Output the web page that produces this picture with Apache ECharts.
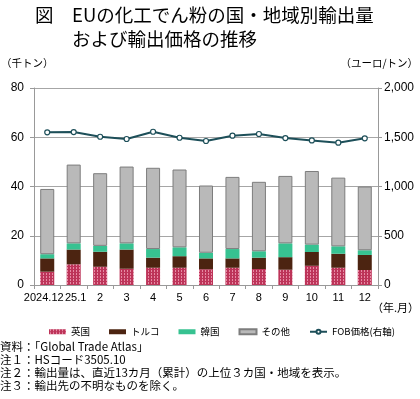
<!DOCTYPE html>
<html>
<head>
<meta charset="utf-8">
<script src="https://cdn.jsdelivr.net/npm/echarts@6/dist/echarts.min.js"></script>
<style>
  html, body { margin: 0; padding: 0; background: #fff; }
  #main { width: 420px; height: 399px; }
</style>
</head>
<body>
<div id="main"></div>
<script>
// 年月
var months = ['2024.12', '25.1', '2', '3', '4', '5', '6', '7', '8', '9', '10', '11', '12']
// 輸出量（千トン）
var uk = [5.4, 8.4, 7.4, 6.6, 7.0, 7.0, 6.4, 7.0, 6.5, 6.2, 7.8, 7.0, 6.1]
var turkey = [5.4, 6.0, 6.1, 7.8, 4.1, 4.7, 4.4, 3.8, 4.6, 5.1, 5.6, 5.7, 6.1]
var korea = [1.7, 2.5, 2.4, 2.5, 3.5, 3.6, 2.3, 3.8, 2.6, 5.6, 3.0, 3.0, 1.9]
var others = [26.5, 32.0, 29.5, 31.2, 33.0, 31.6, 27.3, 29.3, 28.2, 27.4, 29.9, 27.9, 25.9]
// FOB価格（ユーロ/トン）
var fob = [1550, 1553, 1505, 1482, 1556, 1495, 1462, 1516, 1533, 1492, 1468, 1445, 1489]
// 目盛
var leftTicks = [0, 20, 40, 60, 80]
var rightTicks = [0, 500, 1000, 1500, 2000]

var jp = '"Noto Sans CJK JP", sans-serif'
var num = '"Liberation Sans", Arial, sans-serif'

// 英国の柄（ドット）
var tile = document.createElement('canvas')
tile.width = 3
tile.height = 3
var ctx = tile.getContext('2d')
ctx.fillStyle = '#bd3459'
ctx.fillRect(0, 0, 3, 3)
ctx.fillStyle = '#e68aa4'
ctx.fillRect(1, 0, 1, 2)

var myChart = echarts.init(document.getElementById('main'))

var options = {
  backgroundColor: '#fff',
  animation: false,
  textStyle: { fontFamily: jp },
  graphic: [
    { type: 'text', left: 35, top: 6, style: { text: '図', font: '18.5px ' + jp, fill: '#000' } },
    { type: 'text', left: 72, top: 6, style: { text: 'EUの化工でん粉の国・地域別輸出量', font: '18.5px ' + jp, fill: '#000' } },
    { type: 'text', left: 72, top: 30, style: { text: 'および輸出価格の推移', font: '18.5px ' + jp, fill: '#000' } },
    { type: 'text', left: 1, top: 58, style: { text: '（千トン）', font: '10.5px ' + jp, fill: '#000' } },
    { type: 'text', right: 2, top: 58, style: { text: '（ユーロ/トン）', font: '10.5px ' + jp, fill: '#000' } },
    { type: 'text', right: 1, top: 302, style: { text: '（年.月）', font: '11px ' + jp, fill: '#000' } },
    { type: 'text', left: 0, top: 341, style: { text: '資料：「Global Trade Atlas」', font: '11.5px ' + jp, fill: '#000' } },
    { type: 'text', left: 0, top: 354, style: { text: '注１：HSコード3505.10', font: '11.5px ' + jp, fill: '#000' } },
    { type: 'text', left: 0, top: 367, style: { text: '注２：輸出量は、直近13カ月（累計）の上位３カ国・地域を表示。', font: '11.5px ' + jp, fill: '#000' } },
    { type: 'text', left: 0, top: 380, style: { text: '注３：輸出先の不明なものを除く。', font: '11.5px ' + jp, fill: '#000' } }
  ],
  legend: {
    left: 44,
    top: 322,
    itemWidth: 17,
    itemHeight: 5,
    itemGap: 19,
    textStyle: { fontSize: 9.5, color: '#000', fontFamily: jp },
    data: [
      { name: '英国', icon: 'rect' },
      { name: 'トルコ', icon: 'rect' },
      { name: '韓国', icon: 'rect' },
      { name: 'その他', icon: 'rect' },
      { name: 'FOB価格(右軸)' }
    ]
  },
  grid: {
    left: 34,
    right: 42,
    top: 88,
    bottom: 114,
    containLabel: false
  },
  xAxis: [
    {
      type: 'category',
      data: months,
      axisLine: { lineStyle: { color: '#999', width: 1 } },
      axisTick: { show: true, length: 4, lineStyle: { color: '#999' } },
      axisLabel: {
        interval: 0,
        color: '#000',
        fontSize: 11,
        fontFamily: num,
        margin: 7,
        formatter: function (v, i) {
          if (i === 0) return '{a|' + v + '}'
          if (i === 1) return '{b|' + v + '}'
          return v
        },
        rich: {
          a: { fontSize: 11, fontFamily: num, color: '#000', padding: [0, 7, 0, 0] },
          b: { fontSize: 11, fontFamily: num, color: '#000', padding: [0, 0, 0, 4] }
        }
      }
    }
  ],
  yAxis: [
    {
      type: 'value',
      min: leftTicks[0],
      max: leftTicks[leftTicks.length - 1],
      interval: leftTicks[1] - leftTicks[0],
      axisLine: { show: true, lineStyle: { color: '#999' } },
      axisTick: { show: true, length: 4, lineStyle: { color: '#999' } },
      axisLabel: { color: '#000', fontSize: 12, fontFamily: num, margin: 10 },
      splitLine: { show: true, lineStyle: { color: '#a6a6a6', width: 1 } }
    },
    {
      type: 'value',
      min: rightTicks[0],
      max: rightTicks[rightTicks.length - 1],
      interval: rightTicks[1] - rightTicks[0],
      axisLine: { show: true, lineStyle: { color: '#999' } },
      axisTick: { show: true, length: 4, lineStyle: { color: '#999' } },
      axisLabel: {
        color: '#000',
        fontSize: 12,
        fontFamily: num,
        margin: 6,
        formatter: function (v) { return v.toLocaleString('en-US') }
      },
      splitLine: { show: false }
    }
  ],
  series: [
    {
      name: '英国',
      type: 'bar',
      stack: 'total',
      barWidth: '53%',
      data: uk,
      itemStyle: { color: { image: tile, repeat: 'repeat' } }
    },
    {
      name: 'トルコ',
      type: 'bar',
      stack: 'total',
      data: turkey,
      itemStyle: { color: '#4c2411' }
    },
    {
      name: '韓国',
      type: 'bar',
      stack: 'total',
      data: korea,
      itemStyle: { color: '#37c291' }
    },
    {
      name: 'その他',
      type: 'bar',
      stack: 'total',
      data: others,
      itemStyle: { color: '#b9b9b9', borderColor: '#7d7d7d', borderWidth: 1 }
    },
    {
      name: 'FOB価格(右軸)',
      type: 'line',
      yAxisIndex: 1,
      data: fob,
      symbol: 'circle',
      symbolSize: 5,
      itemStyle: { color: '#fff', borderColor: '#1d4f59', borderWidth: 1.2 },
      lineStyle: { color: '#1d4f59', width: 2 }
    }
  ]
}

myChart.setOption(options)
</script>
</body>
</html>
